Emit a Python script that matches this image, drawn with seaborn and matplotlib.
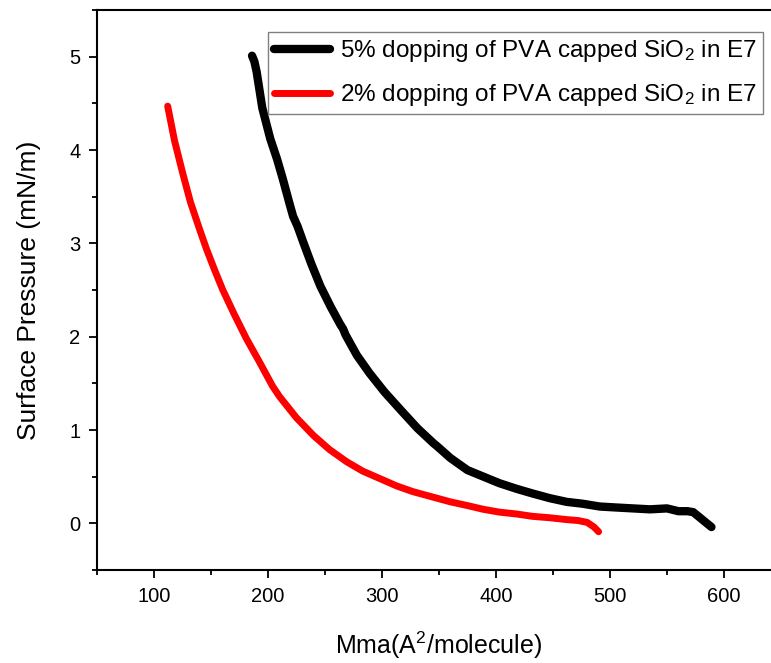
import numpy as np
import pandas as pd
import matplotlib
matplotlib.use("Agg")
import matplotlib.pyplot as plt
from matplotlib.ticker import MultipleLocator
import seaborn as sns

# --- data ---
x_5pct = [186, 188, 190, 195, 202, 208, 213, 219, 222, 226, 231, 238, 246, 255, 263, 266, 268, 278, 289,
          302, 316, 331, 345, 348, 360, 375, 389, 403, 418, 432, 447, 462, 476, 491, 505, 520, 535,
          550, 560, 568, 573, 580, 589]
y_5pct = [5.01, 4.95, 4.84, 4.45, 4.12, 3.90, 3.69, 3.42, 3.29, 3.18, 3.01, 2.78, 2.54, 2.32, 2.14, 2.08, 2.02, 1.80, 1.61,
          1.41, 1.22, 1.02, 0.86, 0.83, 0.70, 0.57, 0.50, 0.43, 0.37, 0.32, 0.27, 0.23, 0.21, 0.18, 0.17, 0.16, 0.15,
          0.16, 0.13, 0.13, 0.12, 0.05, -0.04]

x_2pct = [112, 118, 125, 132, 140, 146, 153, 160, 170, 181, 192, 204, 210, 225, 240, 254, 269, 283, 298,
          313, 327, 345, 360, 375, 389, 403, 418, 432, 447, 462, 472, 480, 486, 490]
y_2pct = [4.47, 4.10, 3.76, 3.44, 3.15, 2.94, 2.72, 2.51, 2.25, 1.98, 1.74, 1.47, 1.36, 1.13, 0.94, 0.79, 0.66, 0.56, 0.48,
          0.40, 0.34, 0.28, 0.23, 0.19, 0.15, 0.12, 0.10, 0.075, 0.06, 0.04, 0.03, 0.01, -0.04, -0.09]

series_labels = [r"5% dopping of PVA capped SiO$_2$ in E7",
                 r"2% dopping of PVA capped SiO$_2$ in E7"]
series_colors = ["#000000", "#ff0000"]

x_ticks = [100, 200, 300, 400, 500, 600]
y_ticks = [0, 1, 2, 3, 4, 5]
x_label = r"Mma(A$^2$/molecule)"
y_label = "Surface Pressure (mN/m)"

df = pd.concat([
    pd.DataFrame({"x": x_5pct, "y": y_5pct, "series": series_labels[0]}),
    pd.DataFrame({"x": x_2pct, "y": y_2pct, "series": series_labels[1]}),
], ignore_index=True)

sns.set_style("ticks")
plt.rcParams["font.family"] = ["Liberation Sans", "DejaVu Sans"]
plt.rcParams["mathtext.default"] = "regular"
plt.rcParams["text.color"] = "black"
plt.rcParams["axes.labelcolor"] = "black"
plt.rcParams["xtick.color"] = "black"
plt.rcParams["ytick.color"] = "black"

fig = plt.figure(figsize=(7.71, 6.63), dpi=100)
ax = fig.add_axes([97 / 771, 93 / 663, 684 / 771, 560 / 663])

sns.lineplot(data=df, x="x", y="y", hue="series", hue_order=series_labels,
             palette=dict(zip(series_labels, series_colors)), sort=False,
             estimator=None, linewidth=5.5, ax=ax)
widths = [6.0, 5.0]
for line, w in zip(ax.get_lines()[:2], widths):
    line.set_linewidth(w)

ax.set_xlim(50, 650)
ax.set_ylim(-0.5, 5.5)
ax.set_xticks(x_ticks)
ax.set_yticks(y_ticks)
ax.xaxis.set_minor_locator(MultipleLocator(50))
ax.yaxis.set_minor_locator(MultipleLocator(0.5))
ax.tick_params(which="major", direction="out", length=6, width=1.3, labelsize=14.5, pad=6,
               colors="black")
ax.tick_params(which="minor", direction="out", length=3.5, width=1.3, colors="black")
for side in ["left", "bottom", "top"]:
    ax.spines[side].set_linewidth(1.5)
    ax.spines[side].set_color("black")
ax.spines["right"].set_visible(False)

ax.set_xlabel(x_label, fontsize=18, labelpad=17, color="black")
ax.set_ylabel(y_label, fontsize=19, labelpad=20, color="black")

leg = ax.legend(loc="upper left", bbox_to_anchor=(268 / 771, 1 - 32 / 663),
                bbox_transform=fig.transFigure, borderaxespad=0, frameon=True,
                fancybox=False, fontsize=17.5, handlelength=2.3, handletextpad=0.4,
                borderpad=0.25, labelspacing=0.75, title=None)
leg.get_frame().set_edgecolor("#808080")
leg.get_frame().set_linewidth(1.0)
leg.get_frame().set_alpha(1)
for line, w in zip(leg.get_lines(), widths):
    line.set_linewidth(w)
for t in leg.get_texts():
    t.set_color("black")

fig.savefig("out.png", dpi=100)
